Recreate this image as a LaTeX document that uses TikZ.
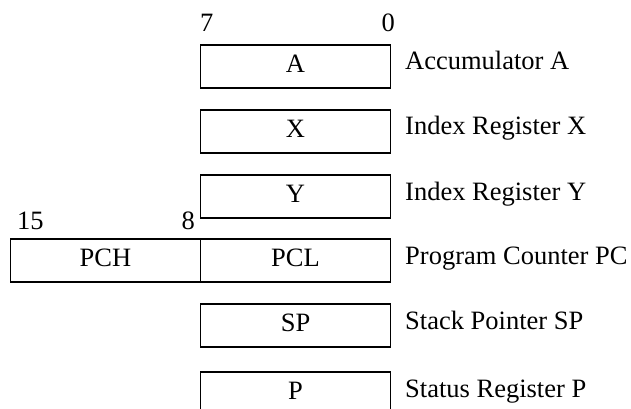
\documentclass[tikz,border=0pt]{standalone}
\usepackage{fontspec}
\setmainfont{Liberation Serif}
\begin{document}
\begin{tikzpicture}[x=1pt,y=-1pt,
    font=\fontsize{26.5}{30}\selectfont,
    reg/.style={draw, line width=1.1pt, minimum width=190pt, minimum height=43pt,
        inner sep=0pt, text height=17pt, text depth=5pt},
    regname/.style={anchor=base west}]
    \useasboundingbox (0,0) rectangle (631,409);
    \clip (0,0) rectangle (631,409);
    % 8 bit registers
    \node[reg] (acc) at (295.5,66.5) {A};
    \node[reg] (idxx) at (295.5,131.5) {X};
    \node[reg] (idxy) at (295.5,196.5) {Y};
    \node[reg] (pcl) at (295.5,260.5) {PCL};
    \node[reg] (pch) at (105.5,260.5) {PCH};
    \node[reg] (sp) at (295.5,325.5) {SP};
    \node[reg] (stat) at (295.5,393.5) {P};
    % bit numbers
    \node[anchor=base west, inner sep=0pt] (bitseven) at (200,32) {7};
    \node[anchor=base east, inner sep=0pt] (bitzero) at (395,32) {0};
    \node[anchor=base west, inner sep=0pt] (bitfifteen) at (17,229) {15};
    \node[anchor=base east, inner sep=0pt] (biteight) at (195,229) {8};
    % register names
    \node[regname, inner sep=0pt] (accname) at (405,70) {Accumulator A};
    \node[regname, inner sep=0pt] (idxxname) at (405,135) {Index Register X};
    \node[regname, inner sep=0pt] (idxyname) at (405,200) {Index Register Y};
    \node[regname, inner sep=0pt] (pcname) at (405,264) {Program Counter PC};
    \node[regname, inner sep=0pt] (spname) at (405,329) {Stack Pointer SP};
    \node[regname, inner sep=0pt] (statname) at (405,397) {Status Register P};
\end{tikzpicture}
\end{document}
